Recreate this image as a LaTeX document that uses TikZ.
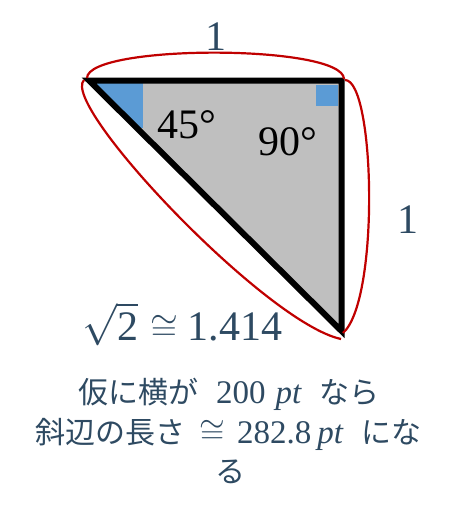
\documentclass[tikz,border=0pt]{standalone}
\usepackage{fix-cm}
\usepackage{graphicx}
\usepackage{fontspec}
\setmainfont{Liberation Serif}
\newfontfamily\jpfont{Noto Sans CJK JP}
\definecolor{txtc}{RGB}{46,74,98}
\definecolor{redc}{RGB}{192,0,0}
\definecolor{bluec}{RGB}{91,155,213}
\definecolor{grayc}{RGB}{191,191,191}
\tikzset{
  edge/.style={line width=6pt, line join=miter, black},
  brace/.style={redc, line width=2.2pt},
  lbl/.style={inner sep=0pt, anchor=base, text=txtc, font=\fontsize{42}{48}\selectfont},
  ang/.style={inner sep=0pt, anchor=base west, text=black, font=\fontsize{42}{48}\selectfont},
  jline/.style={inner sep=0pt, anchor=base, text=txtc, font=\fontsize{30}{36}\selectfont},
}
\begin{document}
\begin{tikzpicture}[x=1pt, y=-1pt]
\useasboundingbox (0,0) rectangle (460,522);
\coordinate (A) at (89,80.5);
\coordinate (B) at (341.5,80.5);
\coordinate (C) at (341.5,331);
% fill
\fill[grayc] (A) -- (B) -- (C) -- cycle;
\begin{scope}
\clip (A) -- (B) -- (C) -- cycle;
\fill[bluec] (96,83) rectangle (143,128);
\end{scope}
\fill[bluec] (316,85) rectangle (338,106);
\draw[edge] (A) -- (B) -- (C) -- cycle;
% red braces
\coordinate (hs) at (84,80);
\coordinate (he) at (341,339);
\draw[brace] (hs) .. controls (59.4,104.9) and (265.9,323) .. (he);
\coordinate (ts) at (87,78);
\coordinate (te) at (344,79);
\draw[brace] (ts) .. controls (88,44) and (343,44) .. (te);
\coordinate (rs) at (345,80);
\coordinate (re) at (343,333);
\draw[brace] (rs) .. controls (375,80) and (380,300) .. (re);
% labels
\node[lbl] (top1) at (216,50) {1};
\node[lbl] (right1) at (408,233) {1};
\node[ang] (a45) at (157,138) {45°};
\node[ang] (a90) at (258,155) {90°};
\node[lbl, anchor=base west] (sq) at (82,340) {$\sqrt{\mbox{2}}$\hspace{12pt}\scalebox{0.85}{$\cong$}\hspace{10pt}1.414};
\node[jline] (l1) at (229,403) {{\jpfont 仮に横が}\hspace{18pt}{\fontsize{33}{36}\selectfont 200\hspace{10pt}\textit{pt}}\hspace{18pt}{\jpfont なら}};
\node[jline] (l2) at (228.5,443) {{\jpfont 斜辺の長さ}\hspace{14pt}{\fontsize{33}{36}\selectfont $\cong$\hspace{12pt}282.8\hspace{6pt}\textit{pt}}\hspace{18pt}{\jpfont にな}};
\node[jline] (l3) at (230,482) {\jpfont る};
\end{tikzpicture}
\end{document}
